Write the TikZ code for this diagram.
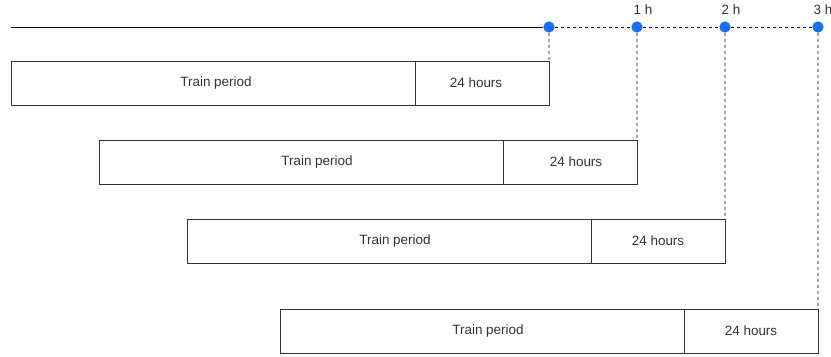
\documentclass[tikz,border=0pt]{standalone}
\usepackage{fontspec}
\setmainfont{Liberation Sans}
\usepackage{xcolor}
\usepackage{tikz}
\usetikzlibrary{positioning}

\definecolor{dotblue}{HTML}{1670F0}
\definecolor{linegray}{HTML}{333333}

\begin{document}
\begin{tikzpicture}[x=0.03cm, y=-0.03cm, font=\fontsize{11.5}{14}\selectfont,
    tpoint/.style={circle, fill=dotblue, inner sep=0pt, minimum size=0.34cm},
    trainbox/.style={rectangle, draw=linegray, line width=0.8pt, text=linegray, anchor=north west, minimum width=12.12cm, minimum height=1.32cm, outer sep=0pt},
    hourbox/.style={rectangle, draw=linegray, line width=0.8pt, text=linegray, anchor=north west, minimum width=4.02cm, minimum height=1.32cm, outer sep=0pt},
    dashline/.style={black, line width=0.8pt, dash pattern=on 0.09cm off 0.09cm}]
    \useasboundingbox (0,0) rectangle (831,356);

    % Time axis
    \coordinate (start) at (11,27);
    \node[tpoint] (t0) at (549,27) {};
    \node[tpoint] (t1) at (637,27) {};
    \node[tpoint] (t2) at (725,27) {};
    \node[tpoint] (t3) at (818,27) {};

    \node[text=linegray] (h1) at (643,10) {1 h};
    \node[text=linegray] (h2) at (731,10) {2 h};
    \node[text=linegray] (h3) at (823,10) {3 h};

    % Windows
    \node[trainbox] (train1) at (11,61) {\hspace*{0.18cm}Train period};
    \node[hourbox] (hours1) at (train1.north east) {24 hours\hspace*{0.36cm}};
    \node[trainbox] (train2) at (99,140) {\hspace*{0.96cm}Train period};
    \node[hourbox] (hours2) at (train2.north east) {\hspace*{0.36cm}24 hours};
    \node[trainbox] (train3) at (187,219) {\hspace*{0.36cm}Train period};
    \node[hourbox] (hours3) at (train3.north east) {24 hours};
    \node[trainbox] (train4) at (280,309) {\hspace*{0.36cm}Train period};
    \node[hourbox] (hours4) at (train4.north east) {24 hours};

    % Draw connections
    \draw[black, line width=0.8pt] (start) -- (t0);
    \draw[dashline] (t0) -- (t1) -- (t2) -- (t3);
    \draw[dashline] (t0) -- (hours1.north east);
    \draw[dashline] (t1) -- (hours2.north east);
    \draw[dashline] (t2) -- (hours3.north east);
    \draw[dashline] (t3) -- (hours4.north east);
\end{tikzpicture}
\end{document}
